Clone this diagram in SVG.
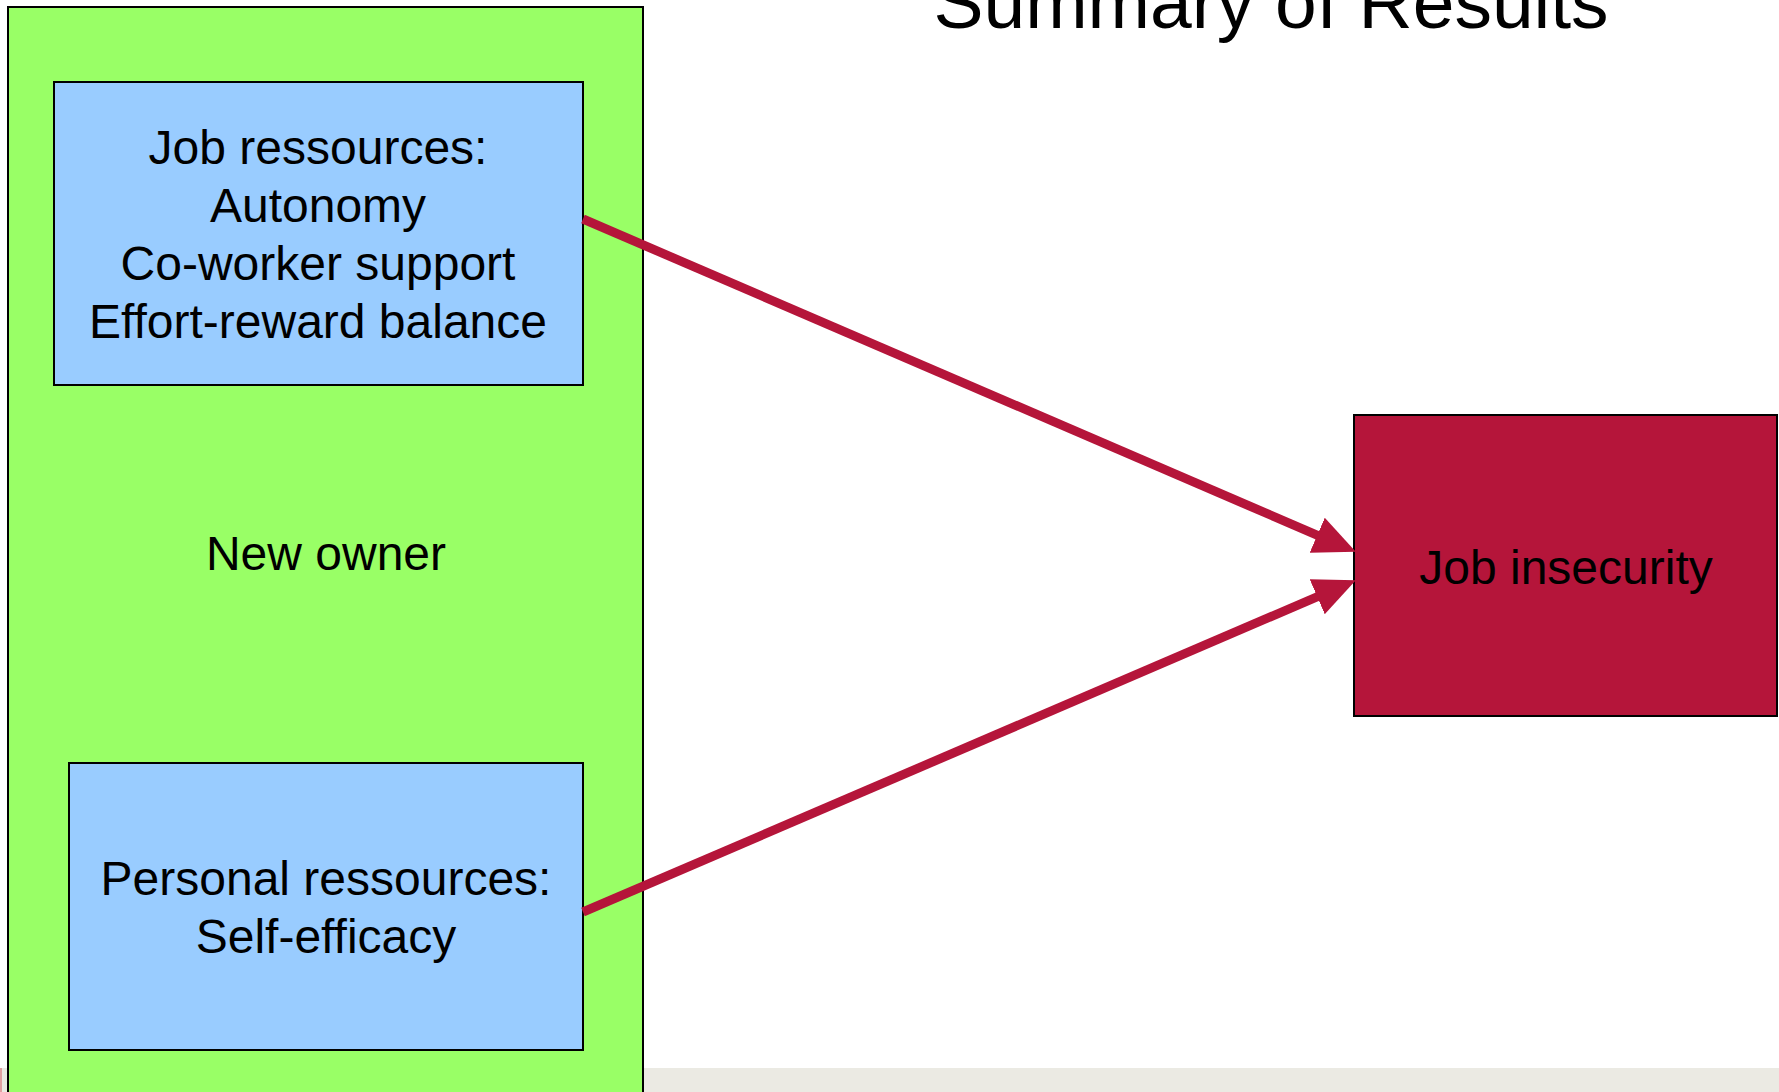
<svg xmlns="http://www.w3.org/2000/svg" width="1779" height="1092" viewBox="0 0 1779 1092">
<style>
.t{font-family:"Liberation Sans",Arial,sans-serif;fill:#000;text-anchor:middle}
.b{font-size:48px}
.box{stroke:#000;stroke-width:2}
.con{stroke:#B5153A;stroke-width:9;fill:none}
</style>
<defs>
<marker id="ah" markerUnits="userSpaceOnUse" viewBox="0 0 42 38" markerWidth="42" markerHeight="38" refX="20" refY="19" orient="auto">
<path d="M0,0 L42,19 L0,38 z" fill="#B5153A"/>
</marker>
</defs>
<rect x="0" y="0" width="1779" height="1092" fill="#fff"/>
<rect x="0" y="1068" width="1779" height="24" fill="#EBEAE3"/>
<rect x="0" y="1068" width="2" height="24" fill="#E0A0A0"/>
<text class="t" x="1271" y="28" font-size="75">Summary of Results</text>
<g id="new-owner">
<rect class="box" x="8" y="7" width="635" height="1095" fill="#99FF66" stroke-width="1.5"/>
<text class="t b" x="326" y="570">New owner</text>
</g>
<g id="job-resources">
<rect class="box" x="54" y="82" width="529" height="303" fill="#99CCFF"/>
<text class="t b" x="318" y="164">Job ressources:</text>
<text class="t b" x="318" y="222">Autonomy</text>
<text class="t b" x="318" y="280">Co-worker support</text>
<text class="t b" x="318" y="338">Effort-reward balance</text>
</g>
<g id="personal-resources">
<rect class="box" x="69" y="763" width="514" height="287" fill="#99CCFF"/>
<text class="t b" x="326" y="895">Personal ressources:</text>
<text class="t b" x="326" y="953">Self-efficacy</text>
</g>
<g id="job-insecurity">
<rect class="box" x="1354" y="415" width="423" height="301" fill="#B5153A"/>
<text class="t b" x="1566" y="584">Job insecurity</text>
</g>
<g id="connectors">
<line class="con" x1="583" y1="219" x2="1335.6" y2="543.1" marker-end="url(#ah)"/>
<line class="con" x1="583" y1="912" x2="1335.6" y2="588.9" marker-end="url(#ah)"/>
</g>
</svg>
